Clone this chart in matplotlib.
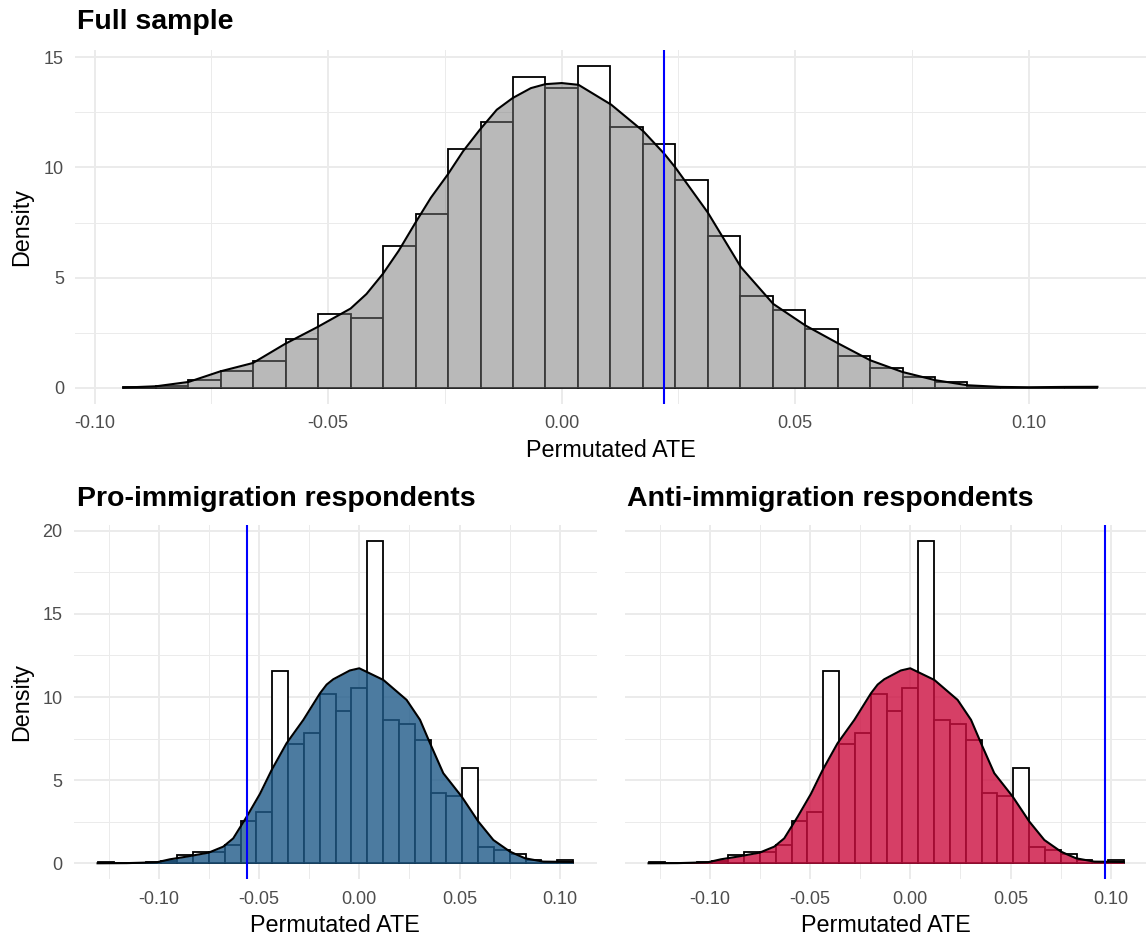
import numpy as np
import matplotlib
matplotlib.use("Agg")
import matplotlib.pyplot as plt
from matplotlib.ticker import FixedLocator

plt.rcParams['font.family'] = ['Liberation Sans', 'DejaVu Sans']
plt.rcParams['axes.unicode_minus'] = False

W, H, DPI = 1146, 939, 100

# ---------------- data ----------------
titles = ["Full sample", "Pro-immigration respondents", "Anti-immigration respondents"]
x_label = "Permutated ATE"
y_label = "Density"
x_ticks = [-0.10, -0.05, 0.00, 0.05, 0.10]
x_tick_labels = ["-0.10", "-0.05", "0.00", "0.05", "0.10"]
full_y_ticks = [0, 5, 10, 15]
sub_y_ticks = [0, 5, 10, 15, 20]

# full sample histogram (30 bins)
full_bin_width = 0.00695
full_first_center = -0.09035
full_hist = [0.05, 0.10, 0.35, 0.77, 1.20, 2.20, 3.36, 3.16, 6.46, 7.89,
             10.84, 12.08, 14.10, 13.60, 14.60, 11.85, 11.05, 9.41, 6.90, 4.16,
             3.52, 2.67, 1.45, 0.92, 0.48, 0.27, 0.02, 0.00, 0.00, 0.06]
full_dens_x = [-0.0938, -0.0868, -0.0799, -0.0731, -0.0661, -0.0592, -0.0523, -0.0452,
               -0.0418, -0.0383, -0.0349, -0.0313, -0.0280, -0.0244, -0.0211, -0.0175,
               -0.0139, -0.0105, -0.0066, -0.0035, 0.0000, 0.0036, 0.0106, 0.0175,
               0.0221, 0.0244, 0.0313, 0.0384, 0.0453, 0.0522, 0.0591, 0.0661,
               0.0730, 0.0800, 0.0869, 0.0939, 0.1000, 0.1077, 0.1147]
full_dens_y = [0.015, 0.075, 0.27, 0.75, 1.13, 2.00, 2.76, 3.60,
               4.26, 5.17, 6.22, 7.50, 8.63, 9.68, 10.74, 11.72,
               12.62, 13.15, 13.60, 13.78, 13.83, 13.75, 12.85, 11.64,
               10.59, 9.98, 7.95, 5.47, 3.81, 2.83, 2.03, 1.25,
               0.72, 0.35, 0.12, 0.045, 0.03, 0.045, 0.05]
full_observed = 0.022

# subgroup histogram (same permutation distribution in both panels, 30 bins)
sub_bin_width = 0.0079
sub_first_center = -0.1264
sub_hist = [0.05, 0.00, 0.00, 0.05, 0.15, 0.48, 0.70, 0.66, 1.10, 2.57,
            3.10, 11.57, 7.18, 7.86, 10.17, 9.17, 10.53, 19.38, 8.63, 8.39,
            7.42, 4.25, 4.07, 5.74, 0.98, 0.80, 0.54, 0.20, 0.05, 0.20]
sub_dens_x = [-0.1306, -0.1161, -0.1011, -0.0945, -0.0862, -0.0752, -0.0679, -0.0629,
              -0.0562, -0.0496, -0.0437, -0.0363, -0.0279, -0.0196, -0.0163, -0.0130,
              -0.0047, 0.0000, 0.0120, 0.0236, 0.0303, 0.0353, 0.0419, 0.0511,
              0.0594, 0.0669, 0.0752, 0.0827, 0.0918, 0.1065]
sub_dens_y = [0.00, 0.01, 0.06, 0.24, 0.40, 0.64, 1.00, 1.50,
              2.80, 4.17, 5.62, 7.22, 8.63, 10.23, 10.75, 11.07,
              11.60, 11.73, 11.03, 9.83, 8.63, 7.22, 5.42, 4.01,
              2.51, 1.40, 0.70, 0.30, 0.10, 0.08]
pro_observed = -0.056
anti_observed = 0.097

# ---------------- drawing ----------------
fig = plt.figure(figsize=(W / DPI, H / DPI), dpi=DPI)
fig.patch.set_facecolor('white')


def px_axes(left, top, right, bottom):
    return fig.add_axes([left / W, 1 - bottom / H, (right - left) / W, (bottom - top) / H])


def draw(ax, first_center, width, heights, dx, dy, fill, alpha, vline,
         xlim, ylim, yticks, minor_x, minor_y, show_y):
    centers = first_center + width * np.arange(len(heights))
    for s in ax.spines.values():
        s.set_visible(False)
    ax.bar(centers, heights, width=width, color='white', edgecolor='black',
           linewidth=1.3, zorder=2)
    ax.fill_between(dx, dy, 0, color=fill, alpha=alpha, linewidth=0, zorder=3)
    ax.plot(dx, dy, color='black', lw=1.5, zorder=4, solid_joinstyle='round')
    ax.axvline(vline, color='#0000FF', lw=1.5, zorder=5)
    ax.set_xlim(*xlim)
    ax.set_ylim(*ylim)
    ax.set_xticks(x_ticks)
    ax.set_xticklabels(x_tick_labels)
    ax.xaxis.set_minor_locator(FixedLocator(minor_x))
    ax.set_yticks(yticks)
    ax.set_yticklabels([str(v) for v in yticks])
    ax.yaxis.set_minor_locator(FixedLocator(minor_y))
    ax.grid(which='major', color='#EBEBEB', lw=1.4)
    ax.grid(which='minor', color='#EBEBEB', lw=0.7)
    ax.set_axisbelow(True)
    ax.tick_params(which='both', length=0, labelsize=13, labelcolor='#4D4D4D', pad=8)
    if not show_y:
        ax.set_yticklabels([])


# top panel
ax_top = px_axes(75, 50, 1146, 404)
draw(ax_top, full_first_center, full_bin_width, full_hist, full_dens_x, full_dens_y,
     '#757575', 0.5, full_observed, (-0.1042, 0.1251), (-0.73, 15.33), full_y_ticks,
     [-0.075, -0.025, 0.025, 0.075], [2.5, 7.5, 12.5], True)

ax_pro = px_axes(73.5, 525, 596.6, 879.4)
draw(ax_pro, sub_first_center, sub_bin_width, sub_hist, sub_dens_x, sub_dens_y,
     '#1F5A88', 0.8, pro_observed, (-0.1426, 0.1184), (-0.969, 20.35), sub_y_ticks,
     [-0.125, -0.075, -0.025, 0.025, 0.075], [2.5, 7.5, 12.5, 17.5], True)

ax_anti = px_axes(624.5, 525, 1147.6, 879.4)
draw(ax_anti, sub_first_center, sub_bin_width, sub_hist, sub_dens_x, sub_dens_y,
     '#CC0F40', 0.8, anti_observed, (-0.1426, 0.1184), (-0.969, 20.35), sub_y_ticks,
     [-0.125, -0.075, -0.025, 0.025, 0.075], [2.5, 7.5, 12.5, 17.5], False)

# titles
fig.text(77 / W, 1 - 29.3 / H, titles[0], fontsize=20.5, fontweight='bold', va='baseline', ha='left')
fig.text(77 / W, 1 - 506.5 / H, titles[1], fontsize=20.5, fontweight='bold', va='baseline', ha='left')
fig.text(627 / W, 1 - 506.5 / H, titles[2], fontsize=20.5, fontweight='bold', va='baseline', ha='left')

# axis labels
fig.text((75 + 1146) / 2 / W, 1 - 456.7 / H, x_label, fontsize=16.8, va='baseline', ha='center')
fig.text((73.5 + 596.6) / 2 / W, 1 - 932.5 / H, x_label, fontsize=16.8, va='baseline', ha='center')
fig.text((624.5 + 1147.6) / 2 / W, 1 - 932.5 / H, x_label, fontsize=16.8, va='baseline', ha='center')
fig.text(22 / W, 1 - 227 / H, y_label, fontsize=16.8, rotation=90, va='center', ha='center')
fig.text(22 / W, 1 - 702 / H, y_label, fontsize=16.8, rotation=90, va='center', ha='center')

fig.savefig('out.png', dpi=DPI, facecolor='white')
